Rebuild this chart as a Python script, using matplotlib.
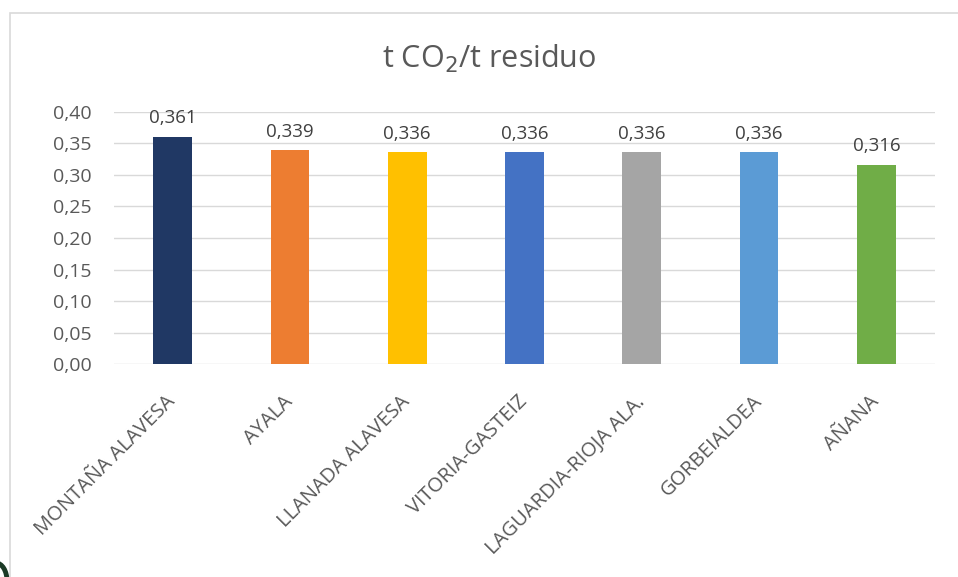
import matplotlib.pyplot as plt
from matplotlib.patches import Rectangle, Arc

comarcas = ['MONTAÑA ALAVESA', 'AYALA', 'LLANADA ALAVESA', 'VITORIA-GASTEIZ',
            'LAGUARDIA-RIOJA ALA.', 'GORBEIALDEA', 'AÑANA']
valores = [0.361, 0.339, 0.336, 0.336, 0.336, 0.336, 0.316]
colores = ['#203864', '#ED7D31', '#FFC000', '#4472C4', '#A5A5A5', '#5B9BD5', '#70AD47']
yticks = [0.0, 0.05, 0.10, 0.15, 0.20, 0.25, 0.30, 0.35, 0.40]

plt.rcParams['font.family'] = ['Open Sans', 'DejaVu Sans']
gris = '#595959'

fig = plt.figure(figsize=(9.58, 5.77), dpi=100)
ax = fig.add_axes([0.119, 0.369, 0.857, 0.437])

x = range(len(comarcas))
ax.bar(x, valores, width=0.33, color=colores, zorder=3)
for i, v in enumerate(valores):
    ax.annotate(('%.3f' % v).replace('.', ','), (i, v), xytext=(0, 7),
                textcoords='offset points', ha='center', va='bottom',
                fontsize=13.5, color='#404040')

ax.set_xlim(-0.5, len(comarcas) - 0.5)
ax.set_ylim(0, 0.40)
ax.set_yticks(yticks)
ax.set_yticklabels([('%.2f' % t).replace('.', ',') for t in yticks],
                   fontsize=14, color=gris)
ax.set_xticks(list(x))
ax.set_xticklabels(comarcas, rotation=45, ha='right', va='center',
                   rotation_mode='anchor', fontsize=14.5, color=gris)
ax.tick_params(axis='both', length=0)
ax.tick_params(axis='y', pad=16)
ax.tick_params(axis='x', pad=25)
ax.grid(axis='y', color='#d9d9d9', lw=1, zorder=0)
for s in ax.spines.values():
    s.set_visible(False)

fig.text(0.511, 0.898, 't CO$_2$/t residuo', ha='center', va='center',
         fontsize=22, color=gris)

# borde del gráfico
fig.patches.append(Rectangle((10 / 958, -0.1), 1.1, 1 - 13 / 577 + 0.1,
                             transform=fig.transFigure, fill=False,
                             edgecolor='#d9d9d9', lw=1.2))
# trozo oscuro en la esquina
fig.patches.append(Arc((-4 / 958, -4 / 577), 22 / 958, 36 / 577, theta1=0, theta2=90,
                       transform=fig.transFigure, color='#1b3a26', lw=3.5))

fig.savefig('out.png', dpi=100)
